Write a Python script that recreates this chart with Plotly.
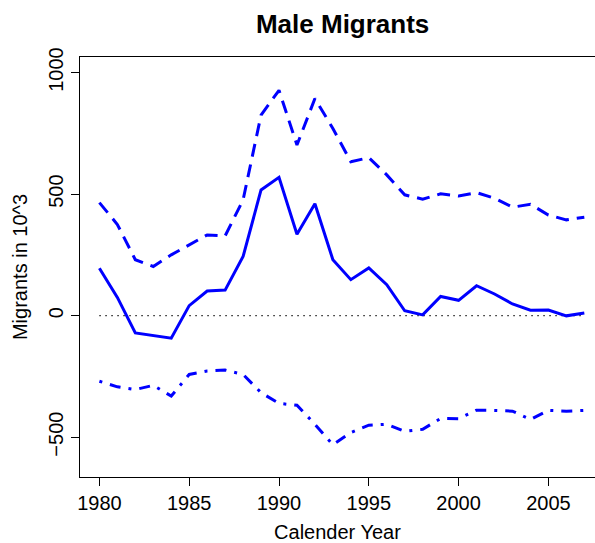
import plotly.graph_objects as go

years = list(range(1980, 2008))
net = [195, 75, -71, -82, -93, 41, 101, 105, 243, 517, 569, 335, 460, 230,
       148, 196, 127, 20, 3, 79, 63, 123, 89, 48, 22, 23, -1, 11]
upper = [465, 375, 230, 202, 250, 291, 332, 328, 476, 825, 927, 702, 893, 770,
         633, 650, 579, 497, 479, 501, 492, 506, 483, 446, 458, 414, 394, 405]
lower = [-270, -293, -304, -287, -331, -242, -228, -224, -242, -317, -361, -369, -447, -531,
         -481, -451, -447, -476, -468, -423, -424, -389, -390, -393, -427, -390, -393, -390]
x_ticks = [1980, 1985, 1990, 1995, 2000, 2005]
y_ticks = [-500, 0, 500, 1000]

FONT = "Liberation Sans, Arial, Helvetica, sans-serif"
BLUE = "#0000FF"

fig = go.Figure()
fig.add_trace(go.Scatter(x=[years[0], years[-1]], y=[0, 0], mode="lines",
                         line=dict(color="black", width=1.3, dash="1.3px,4.7px"),
                         hoverinfo="skip"))
fig.add_trace(go.Scatter(x=years, y=upper, mode="lines",
                         line=dict(color=BLUE, width=3, dash="13px,8px")))
fig.add_trace(go.Scatter(x=years, y=net, mode="lines",
                         line=dict(color=BLUE, width=3)))
fig.add_trace(go.Scatter(x=years, y=lower, mode="lines",
                         line=dict(color=BLUE, width=3, dash="3px,8px,11px,8px")))

fig.update_layout(
    width=595, height=543,
    margin=dict(l=80, r=0, t=57, b=66),
    paper_bgcolor="white", plot_bgcolor="white",
    showlegend=False,
    font=dict(family=FONT, size=20, color="black"),
    title=dict(text="<b>Male Migrants</b>", x=0.51, xref="paper", xanchor="center",
               y=1 - 24 / 543, yref="container", yanchor="middle",
               font=dict(family=FONT, size=26, color="black")),
    xaxis=dict(range=[1978.92, 1978.92 + 515 / 17.96], tickvals=x_ticks,
               ticks="outside", ticklen=8, tickcolor="black", tickwidth=1,
               showline=True, linecolor="black", linewidth=1, mirror=True,
               showgrid=False, zeroline=False, automargin=False,
               tickfont=dict(family=FONT, size=20),
               title=dict(text="Calender Year", standoff=12,
                          font=dict(family=FONT, size=20))),
    yaxis=dict(range=[-664, 1064], tickvals=y_ticks, tickangle=-90,
               ticks="outside", ticklen=8, tickcolor="black", tickwidth=1,
               showline=True, linecolor="black", linewidth=1,
               showgrid=False, zeroline=False, automargin=False,
               tickfont=dict(family=FONT, size=20),
               title=dict(text="Migrants in 10^3", standoff=12,
                          font=dict(family=FONT, size=20))),
)

fig.write_html("out.html", config={"displayModeBar": False},
               post_script="document.body.style.margin='0';document.body.style.overflow='hidden';")
